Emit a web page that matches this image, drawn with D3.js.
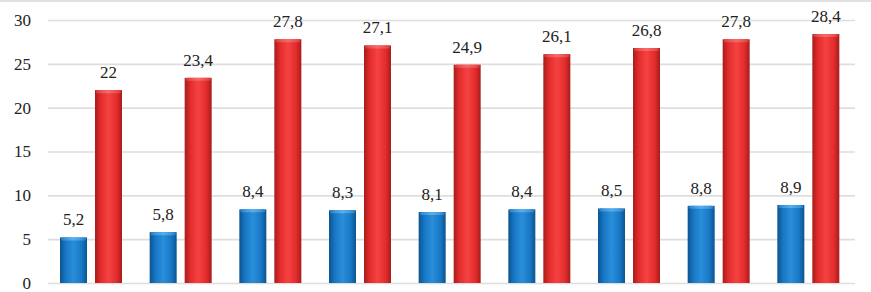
<!DOCTYPE html>
<html>
<head>
<meta charset="utf-8">
<script src="https://cdn.jsdelivr.net/npm/d3@7"></script>
<style>
  body { margin: 0; background: #fff; }
  svg text { font-family: "Liberation Serif", "Times New Roman", "DejaVu Serif", serif; fill: #222; }
</style>
</head>
<body>
<div id="chart"></div>
<script>
// chart values
const groups = [1, 2, 3, 4, 5, 6, 7, 8, 9];
const blueValues = [5.2, 5.8, 8.4, 8.3, 8.1, 8.4, 8.5, 8.8, 8.9];
const redValues = [22, 23.4, 27.8, 27.1, 24.9, 26.1, 26.8, 27.8, 28.4];
const yTicks = [0, 5, 10, 15, 20, 25, 30];

const SERIF = "'Liberation Serif', 'Times New Roman', serif";

const W = 871, H = 292;
const margin = { top: 20, right: 16, bottom: 9, left: 48 };
const width = W - margin.left - margin.right;
const height = H - margin.top - margin.bottom;

const svg = d3.select("#chart").append("svg")
    .attr("width", W)
    .attr("height", H)
    .attr("font-family", SERIF);

const defs = svg.append("defs");

function cylinder(id, dark, mid, light) {
    const g = defs.append("linearGradient").attr("id", id)
        .attr("x1", "0%").attr("x2", "100%").attr("y1", "0%").attr("y2", "0%");
    g.append("stop").attr("offset", "0%").attr("stop-color", dark);
    g.append("stop").attr("offset", "22%").attr("stop-color", mid);
    g.append("stop").attr("offset", "50%").attr("stop-color", light);
    g.append("stop").attr("offset", "80%").attr("stop-color", mid);
    g.append("stop").attr("offset", "100%").attr("stop-color", dark);
}
cylinder("gBlue", "#0c548f", "#1878c6", "#2a8edb");
cylinder("gRed", "#a81c1c", "#e42c2c", "#f44242");
cylinder("gBlueTop", "#2a7cbf", "#3f9ae0", "#5aaeea");
cylinder("gRedTop", "#d23c3c", "#ee5252", "#f56a6a");

// page border at top
svg.append("line")
    .attr("x1", 0).attr("x2", W)
    .attr("y1", 1).attr("y2", 1)
    .attr("stroke", "#e2e2e2").attr("stroke-width", 2);

const plot = svg.append("g")
    .attr("transform", `translate(${margin.left},${margin.top})`);

const x0 = d3.scaleBand().domain(groups).range([0, width]).padding(0);
const x1 = d3.scaleBand().domain(["blue", "red"])
    .range([12, 12 + 62]).paddingInner(8 / 35).paddingOuter(0);
const y = d3.scaleLinear().domain([0, 30]).range([height, 0]);

const yAxis = d3.axisLeft(y)
    .tickValues(yTicks)
    .tickSize(-width)
    .tickPadding(17)
    .tickFormat(d => d);

plot.append("g")
    .attr("class", "axis axis--y")
    .call(yAxis)
    .attr("font-family", SERIF)
    .call(g => g.select(".domain").remove())
    .call(g => g.selectAll(".tick line").attr("stroke", "#dedede").attr("stroke-width", 1.6))
    .call(g => g.selectAll(".tick text").attr("font-size", 17).attr("fill", "#222"));

const series = [
    { key: "blue", values: blueValues, fill: "url(#gBlue)", top: "url(#gBlueTop)" },
    { key: "red", values: redValues, fill: "url(#gRed)", top: "url(#gRedTop)" }
];

series.forEach(s => {
    const gs = plot.append("g").attr("class", "series-" + s.key);

    gs.selectAll(".bar")
        .data(s.values)
        .enter().append("rect")
        .attr("class", "bar")
        .attr("x", (d, i) => x0(groups[i]) + x1(s.key))
        .attr("y", d => y(d))
        .attr("width", x1.bandwidth())
        .attr("height", d => height - y(d))
        .attr("fill", s.fill);

    // soft bevel at the top of each bar
    gs.selectAll(".cap")
        .data(s.values)
        .enter().append("rect")
        .attr("class", "cap")
        .attr("x", (d, i) => x0(groups[i]) + x1(s.key) + 1)
        .attr("y", d => y(d))
        .attr("width", x1.bandwidth() - 2)
        .attr("height", 3)
        .attr("rx", 1.5)
        .attr("fill", s.top);

    gs.selectAll(".lbl")
        .data(s.values)
        .enter().append("text")
        .attr("class", "lbl")
        .attr("x", (d, i) => x0(groups[i]) + x1(s.key) + x1.bandwidth() / 2)
        .attr("y", d => y(d) - 12)
        .attr("text-anchor", "middle")
        .attr("font-size", 17)
        .attr("font-family", SERIF)
        .text(d => String(d).replace(".", ","));
});
</script>
</body>
</html>
